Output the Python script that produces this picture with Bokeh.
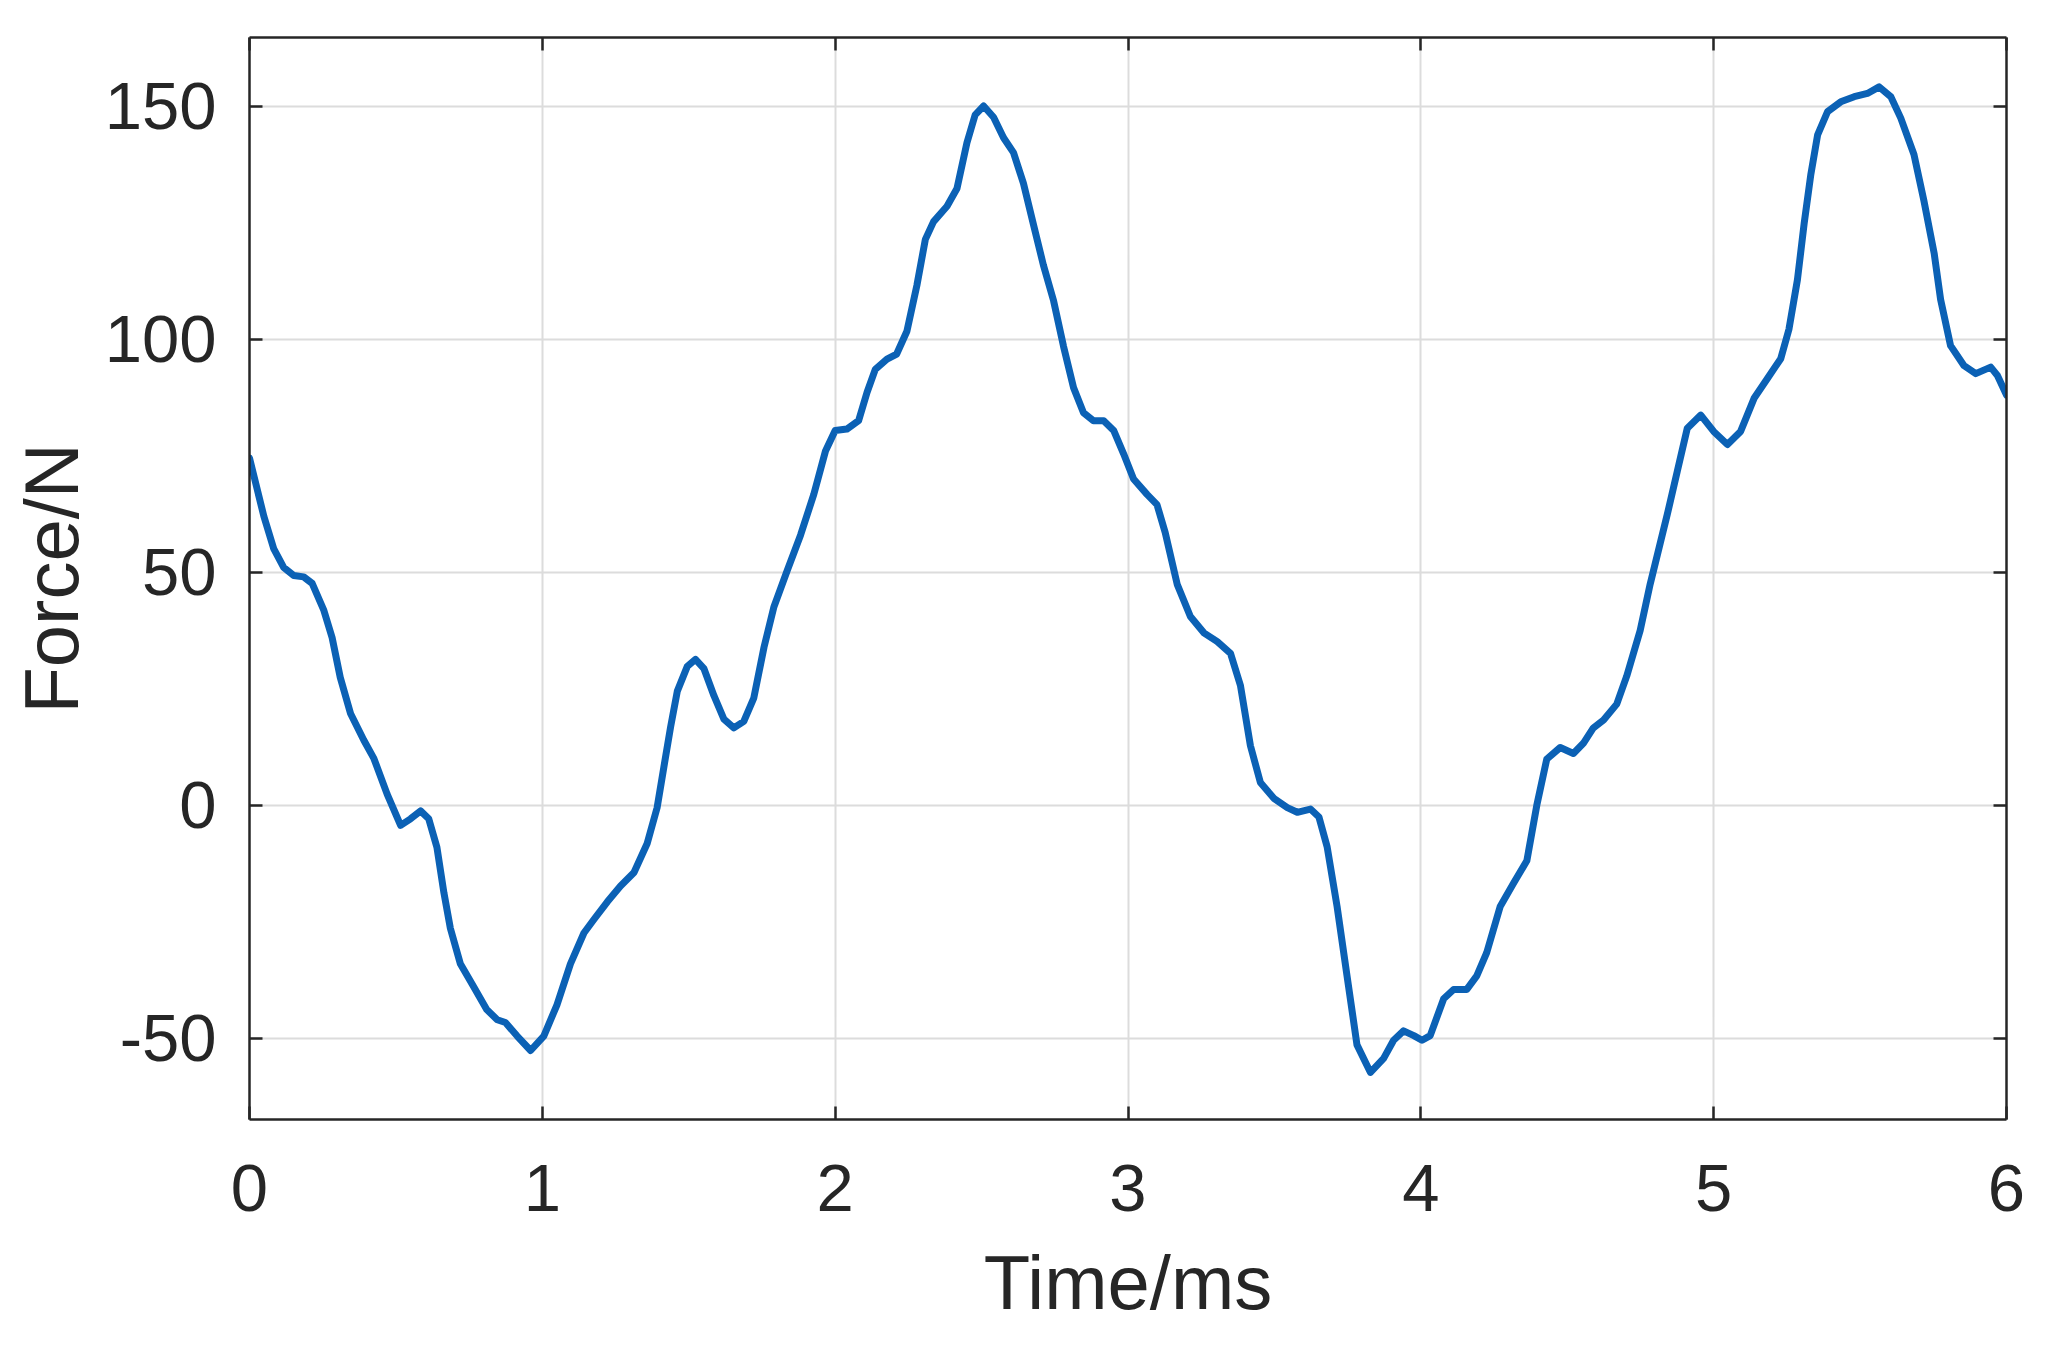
from bokeh.plotting import figure
from bokeh.models import LinearAxis, FixedTicker, Range1d
from bokeh.embed import file_html
from bokeh.resources import INLINE

# Data (time in ms, force in N)
time_ms = [0.0, 0.049, 0.083, 0.117, 0.151, 0.185, 0.214, 0.254, 0.282, 0.31,
           0.345, 0.39, 0.425, 0.47, 0.516, 0.55, 0.584, 0.612, 0.64, 0.664,
           0.686, 0.72, 0.766, 0.81, 0.846, 0.874, 0.914, 0.96, 1.005, 1.05,
           1.096, 1.142, 1.176, 1.222, 1.267, 1.313, 1.358, 1.392, 1.415, 1.438,
           1.461, 1.495, 1.523, 1.552, 1.586, 1.62, 1.654, 1.688, 1.722, 1.757,
           1.791, 1.836, 1.882, 1.927, 1.967, 2.0, 2.04, 2.08, 2.109, 2.137,
           2.177, 2.21, 2.245, 2.279, 2.308, 2.336, 2.382, 2.416, 2.45, 2.478,
           2.507, 2.541, 2.575, 2.609, 2.643, 2.677, 2.711, 2.746, 2.78, 2.814,
           2.848, 2.882, 2.917, 2.951, 2.985, 3.019, 3.065, 3.099, 3.127, 3.168,
           3.213, 3.259, 3.305, 3.35, 3.384, 3.418, 3.452, 3.498, 3.544, 3.578,
           3.623, 3.652, 3.68, 3.714, 3.748, 3.782, 3.828, 3.873, 3.907, 3.941,
           3.976, 4.004, 4.032, 4.078, 4.112, 4.157, 4.191, 4.225, 4.271, 4.316,
           4.362, 4.396, 4.43, 4.476, 4.521, 4.555, 4.589, 4.624, 4.669, 4.703,
           4.749, 4.783, 4.842, 4.876, 4.91, 4.956, 5.0, 5.047, 5.092, 5.138,
           5.183, 5.229, 5.257, 5.286, 5.309, 5.332, 5.355, 5.389, 5.434, 5.48,
           5.525, 5.565, 5.605, 5.639, 5.684, 5.718, 5.753, 5.775, 5.809, 5.855,
           5.895, 5.946, 5.969, 6.0]
force_n = [74.5, 62.0, 55.0, 51.0, 49.3, 49.0, 47.6, 41.8, 36.0, 27.4,
           19.7, 14.0, 10.0, 2.4, -4.3, -2.9, -1.2, -2.9, -9.0, -18.8,
           -26.4, -34.0, -39.0, -43.8, -46.0, -46.6, -49.5, -52.6, -49.5, -42.8,
           -34.0, -27.4, -24.5, -20.7, -17.3, -14.4, -8.2, -0.5, 8.2, 16.8,
           24.5, 29.8, 31.3, 29.3, 23.5, 18.5, 16.6, 18.0, 23.0, 33.9,
           42.6, 50.3, 58.0, 66.7, 76.0, 80.4, 80.7, 82.5, 88.6, 93.5,
           95.7, 96.8, 101.7, 111.5, 121.4, 125.2, 128.5, 132.3, 142.1, 148.1,
           150.0, 147.6, 143.2, 140.0, 133.4, 124.6, 115.9, 108.2, 98.4, 89.6,
           84.2, 82.5, 82.5, 80.4, 75.4, 70.0, 66.7, 64.5, 58.5, 47.4,
           40.5, 37.0, 35.1, 32.6, 25.7, 12.8, 4.9, 1.5, -0.5, -1.5,
           -0.8, -2.5, -8.9, -21.7, -36.6, -51.4, -57.3, -54.3, -50.4, -48.4,
           -49.4, -50.4, -49.4, -41.5, -39.5, -39.5, -36.6, -31.6, -21.7, -16.8,
           -11.9, 0.0, 9.9, 12.4, 11.1, 13.3, 16.6, 18.3, 21.7, 27.7,
           37.5, 47.4, 62.5, 71.7, 80.9, 83.7, 80.2, 77.4, 80.2, 87.3,
           91.5, 95.8, 102.1, 112.7, 124.8, 135.4, 143.8, 148.8, 150.9, 152.0,
           152.7, 154.1, 152.0, 147.4, 139.6, 129.7, 118.4, 108.5, 98.6, 94.3,
           92.6, 94.0, 92.2, 88.0]

x_ticks = [0, 1, 2, 3, 4, 5, 6]
y_ticks = [-50, 0, 50, 100, 150]
y_tick_labels = {-50: "-50", 0: "0", 50: "50", 100: "100", 150: "150"}
x_label = "Time/ms"
y_label = "Force/N"

FONT = "Liberation Sans"
AXIS_COLOR = "#262626"
TICK_SIZE = "67px"
LABEL_SIZE = "76px"

p = figure(
    frame_width=1757, frame_height=1082,
    x_range=Range1d(0, 6), y_range=Range1d(-67.4, 164.7),
    output_backend="svg", toolbar_location=None,
    min_border_left=249, min_border_right=40, min_border_top=37, min_border_bottom=225,
)
p.outline_line_color = None
p.background_fill_color = "white"
p.border_fill_color = "white"

p.line(time_ms, force_n, line_color="#0b61b5", line_width=7, line_join="round", line_cap="round")


def style_axis(ax, show_labels):
    ax.axis_line_color = AXIS_COLOR
    ax.axis_line_width = 2.5
    ax.major_tick_line_color = AXIS_COLOR
    ax.major_tick_line_width = 2.5
    ax.major_tick_in = 13
    ax.major_tick_out = 0
    ax.minor_tick_line_color = None
    if show_labels:
        ax.major_label_text_font = FONT
        ax.major_label_text_font_size = TICK_SIZE
        ax.major_label_text_color = AXIS_COLOR
        ax.axis_label_text_font = FONT
        ax.axis_label_text_font_size = LABEL_SIZE
        ax.axis_label_text_font_style = "normal"
        ax.axis_label_text_color = AXIS_COLOR
    else:
        ax.major_label_text_font_size = "0px"
        ax.major_label_standoff = 0
        ax.major_label_text_color = None


xaxis = p.xaxis[0]
yaxis = p.yaxis[0]
xaxis.ticker = FixedTicker(ticks=x_ticks)
yaxis.ticker = FixedTicker(ticks=y_ticks)
yaxis.major_label_overrides = y_tick_labels
style_axis(xaxis, True)
style_axis(yaxis, True)
xaxis.axis_label = x_label
yaxis.axis_label = y_label
xaxis.major_label_standoff = 45
xaxis.axis_label_standoff = 26
yaxis.major_label_standoff = 33
yaxis.axis_label_standoff = 8

top_axis = LinearAxis(ticker=FixedTicker(ticks=x_ticks))
right_axis = LinearAxis(ticker=FixedTicker(ticks=y_ticks))
style_axis(top_axis, False)
style_axis(right_axis, False)
p.add_layout(top_axis, "above")
p.add_layout(right_axis, "right")

p.xgrid.ticker = FixedTicker(ticks=x_ticks)
p.ygrid.ticker = FixedTicker(ticks=y_ticks)
for g in (p.xgrid, p.ygrid):
    g.grid_line_color = "#dcdcdc"
    g.grid_line_width = 2

open("out.html", "w").write(file_html(p, INLINE))
